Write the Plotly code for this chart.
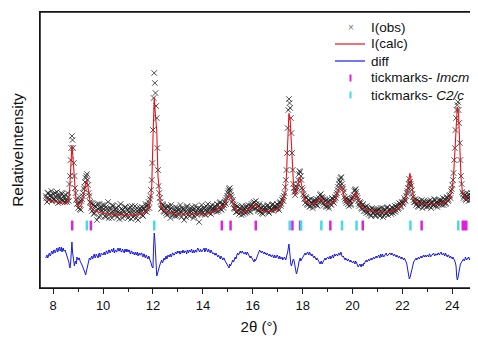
import plotly.graph_objects as go

# 2-theta grid: start and step (degrees); the "half" lists sit between grid points
tth_start = 7.70
tth_step = 0.05

# calculated profile (arbitrary intensity units)
i_calc = [
    88, 88, 88, 87, 87, 87,
    87, 87, 86, 86, 86, 85, 85, 85, 85, 84,
    84, 85, 86, 95, 120, 143, 128, 104, 91, 85,
    82, 81, 82, 85, 90, 97, 105, 108, 100, 88,
    82, 79, 78, 77, 77, 76, 76, 76, 75, 75,
    75, 75, 75, 74, 74, 74, 74, 74, 74, 74,
    74, 74, 73, 73, 73, 73, 73, 73, 73, 73,
    73, 73, 73, 73, 73, 73, 73, 73, 73, 74,
    74, 74, 75, 75, 76, 77, 79, 82, 88, 102,
    150, 191, 172, 158, 112, 92, 84, 80, 78, 77,
    76, 76, 75, 75, 75, 75, 75, 74, 74, 74,
    74, 74, 74, 74, 74, 74, 74, 74, 74, 74,
    74, 74, 74, 74, 74, 74, 74, 74, 74, 74,
    74, 74, 74, 74, 74, 75, 75, 75, 76, 77,
    77, 78, 79, 81, 81, 80, 80, 82, 85, 88,
    91, 93, 93, 90, 85, 81, 79, 77, 77, 76,
    76, 76, 76, 76, 77, 77, 78, 79, 80, 81,
    82, 83, 83, 82, 81, 79, 78, 77, 77, 77,
    77, 77, 77, 77, 77, 77, 78, 78, 78, 79,
    79, 80, 81, 83, 86, 90, 97, 112, 145, 175,
    168, 145, 110, 96, 94, 96, 102, 109, 110, 104,
    96, 90, 87, 86, 85, 85, 84, 84, 84, 84,
    85, 85, 86, 88, 90, 89, 87, 85, 84, 84,
    84, 84, 84, 84, 85, 86, 88, 91, 95, 99,
    100, 102, 98, 92, 88, 86, 85, 85, 85, 86,
    88, 91, 95, 95, 91, 87, 84, 82, 81, 80,
    79, 79, 78, 78, 77, 77, 77, 76, 76, 76,
    76, 76, 76, 76, 76, 76, 76, 76, 76, 76,
    76, 77, 77, 77, 78, 78, 79, 80, 81, 82,
    83, 85, 87, 91, 98, 108, 115, 108, 96, 90,
    87, 86, 85, 85, 84, 84, 84, 84, 84, 84,
    84, 84, 84, 84, 84, 84, 84, 84, 84, 84,
    84, 85, 85, 85, 86, 86, 87, 89, 91, 95,
    101, 112, 135, 165, 181, 174, 140, 110, 97, 92,
    90, 89, 88, 88, 88, 88, 89, 90, 91, 92,
    92,
]

# observed intensities on the grid points
i_obs = [
    92, 86, 95, 89, 93, 87,
    94, 88, 91, 96, 85, 92, 89, 94, 87, 90,
    93, 86, 91, 104, 128, 152, 140, 112, 95, 84,
    80, 86, 78, 89, 95, 101, 110, 114, 103, 92,
    85, 77, 83, 75, 81, 68, 79, 84, 72, 80,
    76, 83, 71, 79, 86, 74, 78, 70, 82, 77,
    73, 80, 76, 69, 84, 75, 78, 72, 81, 74,
    70, 79, 75, 82, 71, 77, 73, 80, 68, 78,
    75, 81, 72, 79, 84, 76, 83, 80, 92, 108,
    158, 215, 195, 170, 118, 95, 86, 80, 83, 76,
    79, 73, 82, 77, 70, 80, 76, 74, 81, 72,
    78, 75, 83, 71, 79, 68, 76, 81, 73, 77,
    80, 74, 78, 72, 82, 75, 79, 66, 77, 83,
    76, 80, 73, 79, 84, 75, 81, 77, 80, 78,
    82, 76, 83, 80, 86, 78, 84, 83, 88, 90,
    95, 99, 97, 91, 88, 80, 83, 76, 81, 74,
    79, 73, 80, 77, 75, 82, 78, 80, 76, 84,
    81, 86, 80, 84, 78, 82, 76, 80, 74, 79,
    81, 77, 83, 75, 80, 78, 84, 79, 82, 80,
    83, 78, 86, 84, 90, 92, 101, 118, 160, 189,
    180, 155, 118, 100, 93, 99, 104, 114, 116, 108,
    98, 92, 85, 90, 83, 88, 82, 86, 80, 87,
    84, 89, 82, 90, 93, 87, 90, 83, 87, 81,
    86, 80, 88, 83, 89, 85, 91, 93, 98, 104,
    106, 111, 101, 96, 89, 85, 88, 82, 87, 84,
    90, 93, 98, 96, 90, 84, 86, 80, 83, 77,
    81, 75, 80, 74, 78, 72, 79, 76, 73, 78,
    74, 79, 72, 77, 80, 73, 78, 75, 81, 76,
    79, 74, 80, 77, 82, 78, 83, 80, 84, 82,
    85, 86, 88, 92, 97, 104, 106, 102, 94, 88,
    86, 83, 88, 81, 86, 84, 80, 87, 83, 85,
    82, 87, 84, 80, 86, 83, 88, 85, 81, 87,
    84, 88, 86, 83, 89, 85, 90, 88, 93, 97,
    103, 115, 140, 170, 183, 178, 145, 112, 96, 90,
    93, 88, 92, 87, 91, 95, 89, 93, 96, 92,
    94,
]

# observed intensities between grid points (7.725, 7.775, ...)
i_obs_half = [
    90, 95, 88, 92, 97, 90,
    89, 95, 87, 93, 90, 86, 95, 88, 92, 86,
    88, 95, 87, 112, 140, 148, 125, 100, 88, 90,
    84, 79, 87, 92, 99, 106, 112, 108, 95, 86,
    80, 85, 74, 82, 78, 84, 71, 80, 77, 83,
    79, 72, 81, 76, 70, 80, 75, 83, 73, 79,
    77, 71, 82, 75, 79, 70, 76, 81, 73, 78,
    76, 81, 69, 78, 74, 82, 70, 77, 75, 80,
    78, 73, 80, 77, 82, 79, 86, 89, 98, 125,
    190, 205, 182, 140, 102, 90, 79, 84, 77, 81,
    75, 81, 74, 79, 83, 73, 78, 72, 77, 80,
    73, 79, 76, 80, 74, 78, 71, 82, 76, 72,
    77, 81, 70, 79, 76, 73, 80, 75, 79, 74,
    79, 74, 82, 76, 78, 80, 74, 83, 77, 81,
    78, 84, 77, 85, 79, 83, 80, 86, 84, 92,
    97, 100, 93, 86, 84, 79, 76, 82, 77, 80,
    76, 82, 74, 79, 81, 76, 83, 77, 82, 80,
    85, 79, 87, 81, 77, 84, 79, 75, 82, 77,
    79, 82, 76, 81, 78, 83, 77, 82, 79, 84,
    80, 85, 82, 88, 87, 95, 108, 135, 178, 185,
    170, 135, 104, 96, 97, 101, 108, 117, 112, 100,
    94, 89, 91, 84, 88, 81, 89, 85, 83, 88,
    87, 83, 88, 86, 94, 91, 85, 89, 82, 88,
    82, 87, 84, 90, 86, 88, 90, 95, 101, 108,
    110, 104, 99, 91, 87, 90, 84, 88, 83, 89,
    91, 97, 99, 92, 87, 82, 85, 79, 84, 80,
    77, 82, 76, 79, 73, 80, 75, 78, 72, 77,
    78, 73, 80, 75, 71, 79, 74, 80, 73, 78,
    76, 81, 75, 79, 76, 81, 79, 85, 81, 86,
    84, 90, 87, 95, 100, 109, 104, 98, 91, 86,
    89, 85, 82, 87, 83, 88, 85, 82, 86, 81,
    86, 82, 88, 85, 83, 89, 82, 86, 84, 88,
    87, 83, 90, 86, 84, 91, 87, 92, 90, 99,
    108, 128, 158, 178, 186, 165, 128, 104, 94, 92,
    89, 95, 90, 94, 88, 92, 97, 91, 95, 90,
]

# difference curve (offset below the pattern), on grid points
i_diff = [
    30, 33, 31, 35, 33, 37,
    35, 38, 36, 40, 37, 41, 38, 36, 40, 37,
    36, 33, 30, 22, 26, 46, 30, 22, 27, 31,
    28, 30, 26, 24, 20, 17, 13, 19, 26, 30,
    28, 32, 30, 34, 31, 33, 30, 35, 32, 34,
    33, 36, 34, 37, 35, 38, 36, 39, 37, 35,
    38, 36, 40, 37, 39, 36, 38, 35, 37, 39,
    36, 38, 34, 37, 35, 33, 36, 34, 32, 35,
    33, 35, 31, 34, 30, 32, 29, 31, 27, 22,
    20, 55, 38, 12, 17, 22, 25, 28, 26, 30,
    31, 29, 33, 31, 34, 32, 35, 33, 36, 34,
    35, 37, 34, 36, 38, 35, 37, 34, 36, 38,
    36, 39, 37, 35, 38, 36, 40, 37, 39, 36,
    38, 40, 37, 39, 36, 38, 35, 37, 34, 35,
    33, 34, 31, 32, 29, 31, 28, 30, 27, 25,
    23, 20, 22, 25, 28, 27, 31, 33, 35, 34,
    37, 35, 36, 34, 36, 33, 35, 32, 30, 31,
    28, 26, 27, 30, 34, 36, 37, 35, 36, 34,
    35, 33, 34, 32, 33, 31, 33, 30, 32, 31,
    32, 29, 31, 30, 28, 30, 29, 31, 36, 44,
    28, 22, 26, 28, 20, 14, 18, 26, 30, 28,
    31, 33, 35, 34, 36, 33, 35, 32, 33, 30,
    31, 28, 29, 26, 24, 27, 25, 28, 30, 29,
    31, 29, 32, 30, 33, 31, 32, 34, 32, 35,
    33, 35, 31, 30, 28, 29, 27, 28, 26, 27,
    25, 27, 24, 26, 23, 22, 24, 21, 23, 25,
    26, 28, 27, 29, 28, 30, 29, 31, 30, 32,
    31, 33, 30, 32, 34, 31, 33, 35, 32, 34,
    35, 33, 34, 32, 33, 31, 32, 30, 31, 29,
    30, 28, 29, 26, 20, 12, 10, 16, 22, 26,
    28, 30, 29, 31, 30, 32, 31, 33, 32, 31,
    33, 31, 34, 32, 33, 35, 32, 34, 33, 35,
    34, 36, 33, 35, 32, 34, 31, 33, 30, 31,
    29, 30, 27, 22, 8, 14, 22, 25, 27, 29,
    28, 30, 29, 31, 28, 30, 32, 29, 31, 30,
    30,
]

# difference curve between grid points
i_diff_half = [
    33, 30, 34, 32, 36, 34,
    38, 35, 39, 36, 40, 37, 41, 39, 37, 38,
    34, 31, 26, 20, 40, 36, 25, 26, 24, 29,
    30, 27, 25, 22, 19, 15, 16, 23, 28, 29,
    31, 29, 33, 30, 34, 32, 34, 31, 35, 33,
    35, 33, 37, 34, 38, 35, 38, 36, 40, 37,
    36, 39, 37, 40, 36, 39, 37, 39, 36, 37,
    38, 35, 37, 34, 36, 35, 33, 36, 34, 33,
    35, 32, 34, 31, 33, 30, 32, 28, 25, 20,
    42, 48, 22, 14, 20, 23, 27, 25, 29, 28,
    32, 30, 32, 33, 31, 35, 33, 34, 35, 37,
    36, 34, 37, 35, 36, 37, 36, 38, 35, 37,
    38, 35, 38, 37, 36, 39, 38, 36, 38, 37,
    39, 36, 40, 37, 39, 36, 38, 36, 35, 33,
    35, 32, 33, 30, 32, 29, 30, 28, 26, 24,
    21, 24, 23, 27, 26, 30, 29, 34, 33, 36,
    35, 37, 35, 35, 34, 36, 33, 31, 32, 29,
    27, 29, 28, 32, 35, 38, 35, 37, 35, 36,
    34, 35, 32, 34, 32, 33, 31, 33, 30, 33,
    30, 32, 29, 31, 29, 31, 28, 33, 40, 38,
    24, 25, 29, 24, 17, 16, 22, 29, 27, 30,
    32, 34, 33, 36, 34, 36, 33, 34, 31, 32,
    29, 30, 27, 25, 26, 24, 27, 29, 28, 31,
    30, 31, 29, 32, 30, 34, 33, 33, 34, 33,
    36, 32, 32, 29, 30, 28, 29, 27, 28, 25,
    26, 25, 27, 24, 21, 23, 22, 24, 22, 24,
    27, 26, 28, 27, 30, 28, 30, 29, 31, 30,
    32, 31, 34, 31, 33, 32, 34, 33, 33, 35,
    34, 35, 33, 34, 32, 33, 31, 32, 30, 31,
    29, 30, 27, 24, 15, 9, 13, 19, 24, 27,
    29, 28, 31, 29, 31, 30, 33, 31, 33, 32,
    32, 34, 31, 33, 34, 33, 34, 33, 35, 33,
    35, 34, 34, 33, 35, 32, 33, 31, 32, 30,
    31, 28, 25, 12, 10, 19, 24, 26, 28, 27,
    31, 28, 30, 29, 31, 29, 30, 31, 29, 31,
]

# Bragg reflection positions (2theta)
ticks_imcm = [8.76, 9.51, 14.76, 15.11, 16.12, 17.59, 17.90, 19.11, 20.41, 22.77, 24.42, 24.49, 24.56]
ticks_c2c = [9.35, 12.05, 17.48, 17.94, 18.75, 19.58, 20.16, 22.32, 24.24]
tick_level = 62.5

x_tick_vals = [8, 10, 12, 14, 16, 18, 20, 22, 24]

legend_labels = ["I(obs)", "I(calc)", "diff", "tickmarks- <i>Imcm</i>", "tickmarks- <i>C2/c</i>"]

C_OBS = "#1e1e1e"
C_CALC = "#e8141c"
C_DIFF = "#1a1ae6"
C_IMCM = "#e020e0"
C_C2C = "#40dde6"


def grid(n, offset=0.0):
    return [round(tth_start + offset + tth_step * i, 4) for i in range(n)]


def merge(xa, ya, xb, yb):
    pts = sorted(zip(xa + xb, ya + yb))
    return [p[0] for p in pts], [p[1] for p in pts]


obs_x, obs_y = merge(grid(len(i_obs)), i_obs, grid(len(i_obs_half), tth_step / 2), i_obs_half)
diff_x, diff_y = merge(grid(len(i_diff)), i_diff, grid(len(i_diff_half), tth_step / 2), i_diff_half)

FONT = "Liberation Sans, Arial, sans-serif"

fig = go.Figure()
fig.add_trace(go.Scatter(
    x=obs_x, y=obs_y, mode="markers", name="I(obs)", showlegend=False,
    marker=dict(symbol="x-thin", size=5.5, line=dict(width=0.8, color=C_OBS), color=C_OBS),
))
fig.add_trace(go.Scatter(
    x=grid(len(i_calc)), y=i_calc, mode="lines", name="I(calc)", showlegend=False,
    line=dict(color=C_CALC, width=1.1),
))
fig.add_trace(go.Scatter(
    x=diff_x, y=diff_y, mode="lines", name="diff", showlegend=False,
    line=dict(color=C_DIFF, width=1.0),
))
fig.add_trace(go.Scatter(
    x=ticks_imcm, y=[tick_level] * len(ticks_imcm), mode="markers", showlegend=False,
    marker=dict(symbol="line-ns", size=7, line=dict(width=2.5, color=C_IMCM)),
))
fig.add_trace(go.Scatter(
    x=ticks_c2c, y=[tick_level] * len(ticks_c2c), mode="markers", showlegend=False,
    marker=dict(symbol="line-ns", size=7, line=dict(width=2.5, color=C_C2C)),
))

# hand-drawn legend (paper coordinates)
PX_W, PX_H = 438.0, 276.0
def px(xp):
    return (xp - 40) / PX_W
def py(yp):
    return (288 - yp) / PX_H

leg_rows = [27, 44, 61, 78, 95]
annotations = []
shapes = [dict(type="rect", xref="paper", yref="paper", x0=0, x1=1, y0=0, y1=1,
               line=dict(color="#111", width=1.5), layer="above")]
for lab, yr in zip(legend_labels, leg_rows):
    annotations.append(dict(x=px(369), y=py(yr), xref="paper", yref="paper", text=lab,
                            showarrow=False, xanchor="left", yanchor="middle",
                            font=dict(size=13.5, family=FONT, color="#111")))
annotations.append(dict(x=px(350.5), y=py(leg_rows[0]), xref="paper", yref="paper", text="×",
                        showarrow=False, xanchor="center", yanchor="middle",
                        font=dict(size=10, family=FONT, color="#777")))
shapes.append(dict(type="line", xref="paper", yref="paper", x0=px(335), x1=px(365),
                   y0=py(leg_rows[1]), y1=py(leg_rows[1]), line=dict(color=C_CALC, width=1.2)))
shapes.append(dict(type="line", xref="paper", yref="paper", x0=px(335), x1=px(365),
                   y0=py(leg_rows[2]), y1=py(leg_rows[2]), line=dict(color=C_DIFF, width=1.2)))
shapes.append(dict(type="line", xref="paper", yref="paper", x0=px(350.5), x1=px(350.5),
                   y0=py(leg_rows[3] - 3.5), y1=py(leg_rows[3] + 3.5), line=dict(color=C_IMCM, width=2)))
shapes.append(dict(type="line", xref="paper", yref="paper", x0=px(350.5), x1=px(350.5),
                   y0=py(leg_rows[4] - 3.5), y1=py(leg_rows[4] + 3.5), line=dict(color=C_C2C, width=2)))

# page body has an 8px margin, so the figure is 8px smaller and margins are shifted
fig.update_layout(
    width=470, height=329,
    margin=dict(l=32, r=0, t=4, b=49),
    paper_bgcolor="white", plot_bgcolor="white",
    font=dict(family=FONT, size=13, color="#111"),
    showlegend=False,
    annotations=annotations,
    shapes=shapes,
    xaxis=dict(
        range=[7.47, 25.03], tickvals=x_tick_vals, ticks="outside", ticklen=5,
        tickwidth=1, tickcolor="#222",
        minor=dict(dtick=1, tick0=7, ticks="outside", ticklen=3, tickcolor="#222"),
        showline=True, mirror=True, linecolor="#222", linewidth=1.3,
        showgrid=False, zeroline=False,
        tickfont=dict(size=13),
        title=dict(text="2θ (°)", font=dict(size=15), standoff=9),
    ),
    yaxis=dict(
        range=[0, 276], showticklabels=False, ticks="",
        showline=True, mirror=True, linecolor="#222", linewidth=1.3,
        showgrid=False, zeroline=False,
        title=dict(text="RelativeIntensity", font=dict(size=15.5), standoff=11),
    ),
)

fig.write_html("out.html")
